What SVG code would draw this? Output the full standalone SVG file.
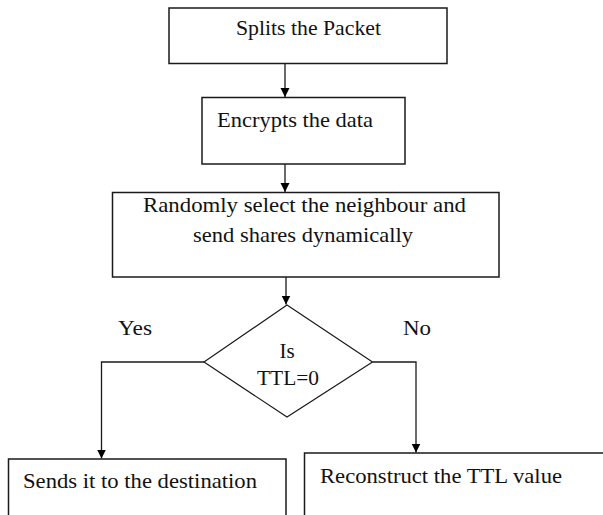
<svg xmlns="http://www.w3.org/2000/svg" width="603" height="515" viewBox="0 0 603 515">
<style>
.box{fill:#fff;stroke:#1a1a1a;stroke-width:1.5}
.t{font-size:21px;fill:#111}
.c{fill:none;stroke:#1a1a1a;stroke-width:1.3}
</style>
<defs>
<marker id="ah" markerWidth="10" markerHeight="10" refX="9" refY="5" orient="auto" markerUnits="userSpaceOnUse">
<path d="M0,0.5 L9,5 L0,9.5 Z" fill="#000"/>
</marker>
</defs>
<rect width="603" height="515" fill="#fff"/>
<g id="connectors">
<path class="c" d="M285,63.5 V97" marker-end="url(#ah)"/>
<path class="c" d="M285,164 V192" marker-end="url(#ah)"/>
<path class="c" d="M286,277 V304.5" marker-end="url(#ah)"/>
<path class="c" d="M204,362 H101.5 V458.5" marker-end="url(#ah)"/>
<path class="c" d="M372.5,362 H416 V452.5" marker-end="url(#ah)"/>
</g>
<g font-family="Liberation Serif, DejaVu Serif, serif">
<g id="n1">
<rect class="box" x="169" y="8" width="278" height="55.5"/>
<text class="t" x="236" y="35" textLength="145" lengthAdjust="spacingAndGlyphs">Splits the Packet</text>
</g>
<g id="n2">
<rect class="box" x="202" y="97.5" width="203" height="66.5"/>
<text class="t" x="217" y="126.5" textLength="156" lengthAdjust="spacingAndGlyphs">Encrypts the data</text>
</g>
<g id="n3">
<rect class="box" x="112.5" y="192.5" width="386.5" height="84.5"/>
<text class="t" x="143" y="211.5" textLength="323" lengthAdjust="spacingAndGlyphs">Randomly select the neighbour and</text>
<text class="t" x="193" y="241.5" textLength="220" lengthAdjust="spacingAndGlyphs">send shares dynamically</text>
</g>
<g id="n4">
<polygon class="box" style="stroke-width:1.2" points="287,305 372.5,362 287,417 204,362"/>
<text class="t" x="287" y="358" text-anchor="middle">Is</text>
<text class="t" x="257" y="385" textLength="62" lengthAdjust="spacingAndGlyphs">TTL=0</text>
</g>
<g id="labels">
<text class="t" x="118" y="335" textLength="34" lengthAdjust="spacingAndGlyphs">Yes</text>
<text class="t" x="403" y="335" textLength="28" lengthAdjust="spacingAndGlyphs">No</text>
</g>
<g id="n5">
<rect class="box" x="8.5" y="459" width="277.5" height="70"/>
<text class="t" x="23" y="488" textLength="234" lengthAdjust="spacingAndGlyphs">Sends it to the destination</text>
</g>
<g id="n6">
<rect class="box" x="304.5" y="453" width="310" height="80"/>
<text class="t" x="320" y="482.5" textLength="242" lengthAdjust="spacingAndGlyphs">Reconstruct the TTL  value</text>
</g>
</g>
</svg>
